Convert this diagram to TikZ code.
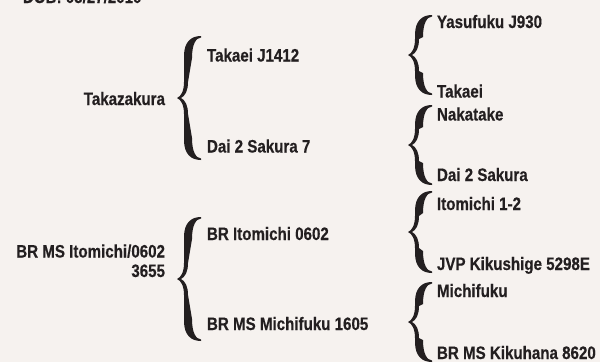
\documentclass[tikz,border=0pt]{standalone}
\usepackage{fontspec}
\newfontfamily\labfont[FakeStretch=0.84,BoldFeatures={FakeBold=0.4}]{Liberation Sans}
\definecolor{bgcol}{HTML}{F6F2EF}
\definecolor{inkcol}{HTML}{231F20}
\tikzset{
  lbl/.style={inner sep=0pt, outer sep=0pt, text=inkcol, font=\labfont\bfseries\fontsize{18}{19.5}\selectfont, anchor=base west},
  lblr/.style={lbl, anchor=base east, align=right},
  pics/curlybrace/.style={code={
    \fill[inkcol] (24,#1) .. controls (14,#1) and (7,#1-6) .. (7,#1-20) -- (7,16)
      .. controls (7,7) and (4,1.5) .. (0,0)
      .. controls (4,-1.5) and (7,-7) .. (7,-16) -- (7,-#1+20)
      .. controls (7,-#1+6) and (14,-#1) .. (24,-#1) -- (24,-#1+1.5)
      .. controls (19,-#1+2) and (15,-#1+8) .. (15,-#1+22) -- (11,-16)
      .. controls (11,-7) and (8,-2) .. (4,0)
      .. controls (8,2) and (11,7) .. (11,16) -- (15,#1-22)
      .. controls (15,#1-8) and (19,#1-2) .. (24,#1-1.5) -- cycle;
  }}
}
\begin{document}
\begin{tikzpicture}[x=1pt,y=-1pt]
\useasboundingbox (0,0) rectangle (600,362);
\fill[bgcol] (0,0) rectangle (600,362);
% top caption (cut off as in the reference)
\node[lbl] (dob) at (23,3) {DOB: 05/27/2010};
% level 1
\node[lblr] (takazakura) at (165,105) {Takazakura};
\node[lblr] (brms) at (165,277) {BR MS Itomichi/0602\\3655};
% braces
\pic at (177,98) {curlybrace=62};
\pic at (177,279) {curlybrace=62};
\pic at (408,55) {curlybrace=40};
\pic at (408,145) {curlybrace=40};
\pic at (408,232) {curlybrace=41};
\pic at (408,322) {curlybrace=40};
% level 2
\node[lbl] (takaeij) at (207,61.5) {Takaei J1412};
\node[lbl] (dai7) at (207,152.5) {Dai 2 Sakura 7};
\node[lbl] (britomichi) at (207,240) {BR Itomichi 0602};
\node[lbl] (brmichifuku) at (207,330) {BR MS Michifuku 1605};
% level 3
\node[lbl] (yasufuku) at (437,28) {Yasufuku J930};
\node[lbl] (takaei) at (437,97.5) {Takaei};
\node[lbl] (nakatake) at (437,120.5) {Nakatake};
\node[lbl] (dai2) at (437,181) {Dai 2 Sakura};
\node[lbl] (itomichi) at (437,210) {Itomichi 1-2};
\node[lbl] (jvp) at (437,270) {JVP Kikushige 5298E};
\node[lbl] (michifuku) at (437,297) {Michifuku};
\node[lbl] (kikuhana) at (437,359) {BR MS Kikuhana 8620};
\end{tikzpicture}
\end{document}
